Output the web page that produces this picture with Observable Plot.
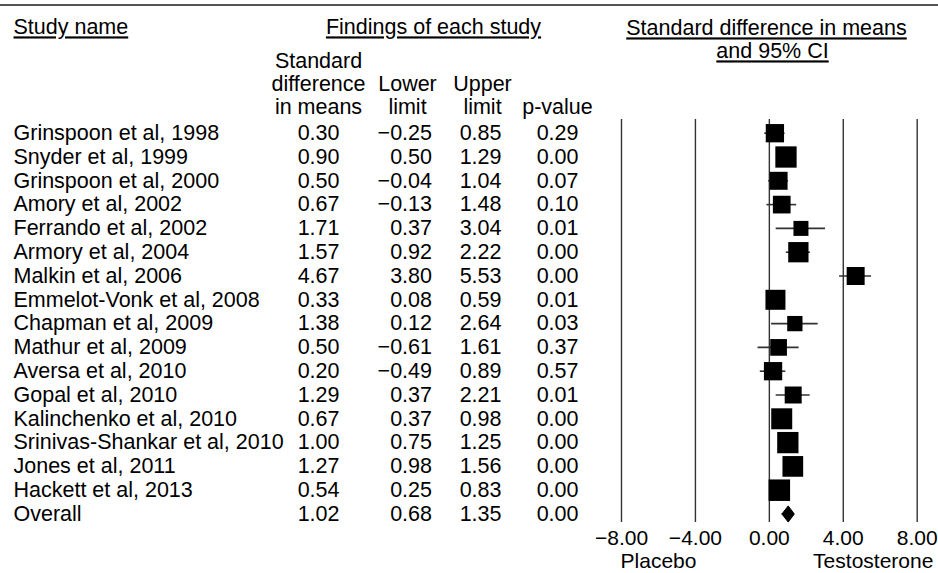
<!DOCTYPE html>
<html>
<head>
<meta charset="utf-8">
<script src="https://cdn.jsdelivr.net/npm/d3@7"></script>
<script src="https://cdn.jsdelivr.net/npm/@observablehq/plot@0.6"></script>
<style>
  html, body { margin: 0; padding: 0; background: #fff; }
  #chart svg { display: block; }
</style>
</head>
<body>
<div id="chart"></div>
<script>
// ---- data ----
const studies = [
  "Grinspoon et al, 1998", "Snyder et al, 1999", "Grinspoon et al, 2000", "Amory et al, 2002",
  "Ferrando et al, 2002", "Armory et al, 2004", "Malkin et al, 2006", "Emmelot-Vonk et al, 2008",
  "Chapman et al, 2009", "Mathur et al, 2009", "Aversa et al, 2010", "Gopal et al, 2010",
  "Kalinchenko et al, 2010", "Srinivas-Shankar et al, 2010", "Jones et al, 2011", "Hackett et al, 2013",
  "Overall"
];
const smd    = [0.30, 0.90, 0.50, 0.67, 1.71, 1.57, 4.67, 0.33, 1.38, 0.50, 0.20, 1.29, 0.67, 1.00, 1.27, 0.54, 1.02];
const lower  = [-0.25, 0.50, -0.04, -0.13, 0.37, 0.92, 3.80, 0.08, 0.12, -0.61, -0.49, 0.37, 0.37, 0.75, 0.98, 0.25, 0.68];
const upper  = [0.85, 1.29, 1.04, 1.48, 3.04, 2.22, 5.53, 0.59, 2.64, 1.61, 0.89, 2.21, 0.98, 1.25, 1.56, 0.83, 1.35];
const pvalue = [0.29, 0.00, 0.07, 0.10, 0.01, 0.00, 0.00, 0.01, 0.03, 0.37, 0.57, 0.01, 0.00, 0.00, 0.00, 0.00, 0.00];
// relative study weights (%); the overall row has none
const weight = [5.87, 7.95, 5.67, 5.49, 3.94, 7.22, 5.67, 7.01, 4.10, 4.88, 5.87, 5.06, 7.72, 7.95, 7.51, 8.10, null];
const xTicks = [-8, -4, 0, 4, 8];
const sideLabels = ["Placebo", "Testosterone"];

// ---- table built from the arrays ----
const rows = studies.map((name, i) => ({
  i, name, smd: smd[i], lower: lower[i], upper: upper[i], p: pvalue[i], w: weight[i]
}));
const studyRows = rows.filter(d => d.w != null);
const overallRows = rows.filter(d => d.w == null);
const fmt = d3.format(".2f");

// diamond polygon for the pooled estimate
const halfH = 0.34; // half height in row units
const diamond = overallRows.flatMap(d => [
  {x: d.lower, y: d.i}, {x: d.smd, y: d.i - halfH}, {x: d.upper, y: d.i},
  {x: d.smd, y: d.i + halfH}, {x: d.lower, y: d.i}
]);
const sides = [
  {x: (xTicks[0] + xTicks[1]) / 2, t: sideLabels[0], shift: 0},
  {x: (xTicks[3] + xTicks[4]) / 2, t: sideLabels[1], shift: -7}
];

const TOP = 119; // frame top (gridlines start)
const FS = 21.5;
function header(text, cx, cy, anchor = "middle") {
  return Plot.text([text], {
    text: d => d, frameAnchor: "top-left", textAnchor: anchor, lineAnchor: "middle",
    dx: cx, dy: cy - TOP, fontSize: FS
  });
}
function column(accessor, rightEdge) {
  return Plot.text(rows, {
    y: "i", text: accessor, frameAnchor: "left", textAnchor: "end", lineAnchor: "middle",
    dx: rightEdge, fontSize: FS
  });
}

const topRule = (index, scales, values, dims) => {
  const l = document.createElementNS("http://www.w3.org/2000/svg", "line");
  l.setAttribute("x1", 0); l.setAttribute("x2", dims.width);
  l.setAttribute("y1", 5); l.setAttribute("y2", 5);
  l.setAttribute("stroke", "#555"); l.setAttribute("stroke-width", 2);
  return l;
};

const chart = Plot.plot({
  width: 938,
  height: 573,
  marginTop: TOP,
  marginBottom: 51,
  marginLeft: 0,
  marginRight: 0,
  style: {
    fontFamily: "'Liberation Sans', Arial, sans-serif",
    fontSize: "21px",
    color: "#000",
    background: "#fff",
    overflow: "visible"
  },
  x: {domain: [-8, 8], range: [621, 916.7], axis: null, label: null},
  y: {domain: [0, 16], range: [132.7, 513.5], axis: null, label: null},
  r: {type: "sqrt", domain: [0, 8.1], range: [0, 12.13]},
  marks: [
    topRule,
    // forest panel
    Plot.ruleX(xTicks, {stroke: "#333", strokeWidth: 1.4}),
    Plot.ruleY(studyRows, {y: "i", x1: "lower", x2: "upper", stroke: "#333", strokeWidth: 1.6}),
    Plot.dot(studyRows, {x: "smd", y: "i", r: "w", symbol: "square", fill: "black"}),
    Plot.line(diamond, {x: "x", y: "y", fill: "black", stroke: "black", strokeWidth: 1}),
    Plot.axisX({ticks: xTicks, tickFormat: ".2f", tickSize: 0, tickPadding: 8, label: null, anchor: "bottom"}),
    Plot.text(sides.slice(0, 1), {x: "x", text: "t", frameAnchor: "bottom", lineAnchor: "middle", dy: 561 - 522}),
    Plot.text(sides.slice(1), {x: "x", text: "t", frameAnchor: "bottom", lineAnchor: "middle", dy: 561 - 522, dx: sides[1].shift}),
    // headers
    header("Study name", 13, 27, "start"),
    header("Findings of each study", 433, 27),
    header("Standard", 318, 61),
    header("difference", 318, 84),
    header("in means", 318, 107),
    header("Lower", 407, 84),
    header("limit", 407, 107),
    header("Upper", 482, 84),
    header("limit", 482, 107),
    header("p-value", 557, 107),
    header("Standard difference in means", 766, 28),
    header("and 95% CI", 772, 51),
    // table body
    Plot.text(rows, {y: "i", text: "name", frameAnchor: "left", textAnchor: "start", lineAnchor: "middle", dx: 13, fontSize: FS}),
    column(d => fmt(d.smd), 339),
    column(d => fmt(d.lower), 431.5),
    column(d => fmt(d.upper), 501),
    column(d => fmt(d.p), 578)
  ]
});

const underlined = new Set(["Study name", "Findings of each study", "Standard difference in means", "and 95% CI"]);
d3.select(chart).selectAll("text").each(function () {
  if (underlined.has(this.textContent)) this.style.textDecoration = "underline";
});

document.getElementById("chart").appendChild(chart);
</script>
</body>
</html>
